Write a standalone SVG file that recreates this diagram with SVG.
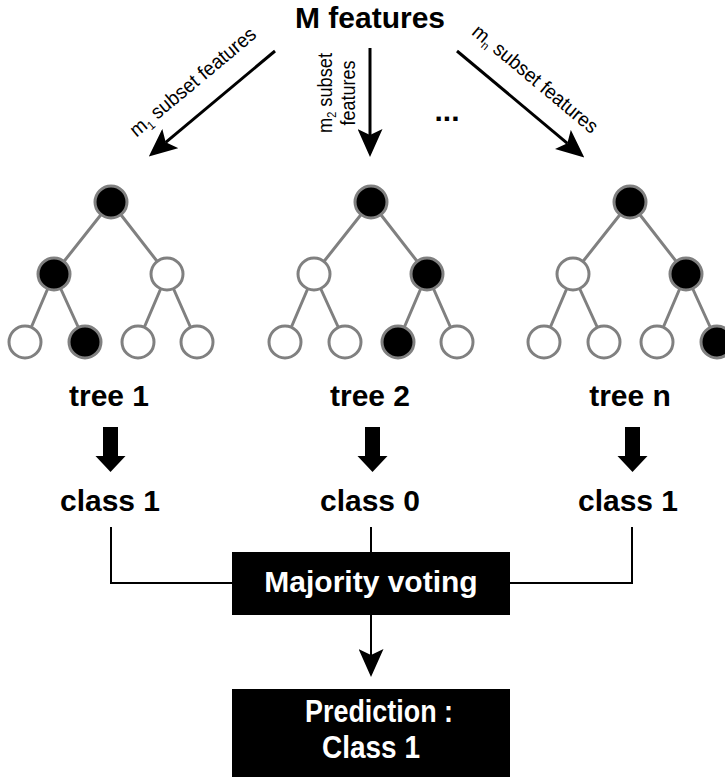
<svg xmlns="http://www.w3.org/2000/svg" width="725" height="779" viewBox="0 0 725 779">
  <style>
    .title { font-family: "Liberation Sans", Arial, sans-serif; font-weight: bold; font-size: 30px; fill: #000; text-anchor: middle; }
    .small { font-family: "Liberation Sans", Arial, sans-serif; font-size: 20px; fill: #000; text-anchor: middle; }
    .sub { font-size: 12px; }
    .boxtext { font-family: "Liberation Sans", Arial, sans-serif; font-weight: bold; fill: #fff; text-anchor: middle; }
    .edge { stroke: #808080; stroke-width: 3; fill: none; }
    .on { fill: #000; stroke: #808080; stroke-width: 3; }
    .off { fill: #fff; stroke: #808080; stroke-width: 3; }
    .feed { stroke: #000; stroke-width: 3; fill: none; marker-end: url(#head); }
    .wire { stroke: #000; stroke-width: 2; fill: none; }
    .block { fill: #000; }
  </style>
  <defs>
    <marker id="head" markerUnits="userSpaceOnUse" viewBox="0 0 28 25" markerWidth="28" markerHeight="25" refX="6" refY="12.5" orient="auto">
      <path d="M0 0 L28 12.5 L0 25 L6 12.5 Z" fill="#000"/>
    </marker>
    <path id="fat" d="M-7.5 0 H7.5 V29 H15 L0 45 L-15 29 H-7.5 Z" fill="#000"/>
  </defs>

  <rect width="725" height="779" fill="#fff"/>

  <!-- source of the features -->
  <g id="features">
    <text class="title" x="370" y="28">M features</text>
  </g>

  <!-- connectors -->
  <g id="connectors">
    <!-- feature subsets into each tree -->
    <line class="feed" x1="275" y1="51" x2="165.7" y2="142.3"/>
    <line class="feed" x1="370" y1="48" x2="370" y2="135"/>
    <line class="feed" x1="457" y1="51" x2="567.4" y2="143.3"/>
    <text class="small" transform="translate(197,87) rotate(-39.9)" textLength="158" lengthAdjust="spacingAndGlyphs">m<tspan class="sub" dy="4">1</tspan><tspan dy="-4"> subset features</tspan></text>
    <text class="small" transform="translate(332,93) rotate(-90)" textLength="80" lengthAdjust="spacingAndGlyphs">m<tspan class="sub" dy="4">2</tspan><tspan dy="-4"> subset</tspan></text>
    <text class="small" transform="translate(355,93) rotate(-90)" textLength="65" lengthAdjust="spacingAndGlyphs">features</text>
    <text class="small" transform="translate(531,84) rotate(39.9)" textLength="157" lengthAdjust="spacingAndGlyphs">m<tspan class="sub" dy="4">n</tspan><tspan dy="-4"> subset features</tspan></text>
    <text class="title" x="447" y="121">...</text>

    <!-- tree to class -->
    <use href="#fat" x="110.5" y="427"/>
    <use href="#fat" x="372.5" y="427"/>
    <use href="#fat" x="632.5" y="427"/>

    <!-- votes gathered -->
    <polyline class="wire" points="111,527 111,583 232,583"/>
    <polyline class="wire" points="632,527 632,583 510,583"/>
    <line class="wire" x1="371" y1="527" x2="371" y2="552"/>
    <line class="wire" x1="371" y1="615" x2="371" y2="655" marker-end="url(#head)"/>
  </g>

  <!-- tree 1 -->
  <g id="tree1">
    <path class="edge" d="M111 202 L54 274 M111 202 L167 274 M54 274 L25 342 M54 274 L85 342 M167 274 L138 342 M167 274 L197 342"/>
    <circle class="on" cx="111" cy="202" r="16"/>
    <circle class="on" cx="54" cy="274" r="16"/>
    <circle class="off" cx="167" cy="274" r="16"/>
    <circle class="off" cx="25" cy="342" r="16"/>
    <circle class="on" cx="85" cy="342" r="16"/>
    <circle class="off" cx="138" cy="342" r="16"/>
    <circle class="off" cx="197" cy="342" r="16"/>
    <text class="title" x="109" y="406">tree 1</text>
  </g>

  <!-- tree 2 -->
  <g id="tree2">
    <path class="edge" d="M371 202 L314 274 M371 202 L427 274 M314 274 L285 342 M314 274 L345 342 M427 274 L398 342 M427 274 L457 342"/>
    <circle class="on" cx="371" cy="202" r="16"/>
    <circle class="off" cx="314" cy="274" r="16"/>
    <circle class="on" cx="427" cy="274" r="16"/>
    <circle class="off" cx="285" cy="342" r="16"/>
    <circle class="off" cx="345" cy="342" r="16"/>
    <circle class="on" cx="398" cy="342" r="16"/>
    <circle class="off" cx="457" cy="342" r="16"/>
    <text class="title" x="370" y="406">tree 2</text>
  </g>

  <!-- tree n -->
  <g id="treen">
    <path class="edge" d="M630 202 L573 274 M630 202 L686 274 M573 274 L544 342 M573 274 L604 342 M686 274 L657 342 M686 274 L717 342"/>
    <circle class="on" cx="630" cy="202" r="16"/>
    <circle class="off" cx="573" cy="274" r="16"/>
    <circle class="on" cx="686" cy="274" r="16"/>
    <circle class="off" cx="544" cy="342" r="16"/>
    <circle class="off" cx="604" cy="342" r="16"/>
    <circle class="off" cx="657" cy="342" r="16"/>
    <circle class="on" cx="717" cy="342" r="16"/>
    <text class="title" x="630" y="406">tree n</text>
  </g>

  <!-- per-tree outcomes -->
  <g id="class1a"><text class="title" x="110" y="511">class 1</text></g>
  <g id="class0"><text class="title" x="370" y="511">class 0</text></g>
  <g id="class1b"><text class="title" x="628" y="511">class 1</text></g>

  <!-- vote -->
  <g id="voting">
    <rect class="block" x="232" y="552" width="278" height="63"/>
    <text class="boxtext" x="371" y="592" font-size="30">Majority voting</text>
  </g>

  <!-- final answer -->
  <g id="prediction">
    <rect class="block" x="232" y="689" width="278" height="88"/>
    <text class="boxtext" x="379" y="722" font-size="32" textLength="148" lengthAdjust="spacingAndGlyphs">Prediction :</text>
    <text class="boxtext" x="371" y="758" font-size="32" textLength="98" lengthAdjust="spacingAndGlyphs">Class 1</text>
  </g>
</svg>
